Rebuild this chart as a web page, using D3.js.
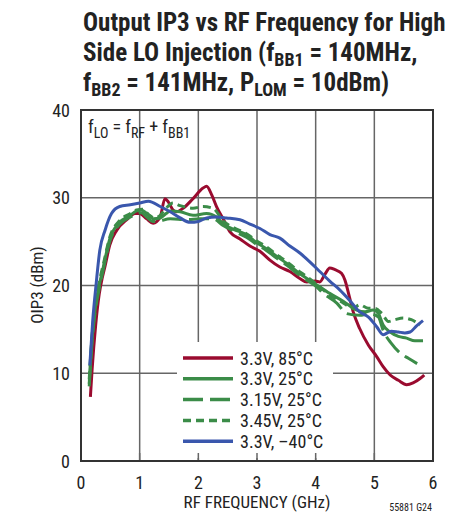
<!DOCTYPE html>
<html><head><meta charset="utf-8">
<script src="https://cdn.jsdelivr.net/npm/d3@7"></script>
<style>
body{margin:0;background:#fff;}
text{font-family:"Liberation Sans Narrow","Roboto Condensed","Arial Narrow",sans-serif;fill:#222;}
</style></head><body>
<svg id="c" width="468" height="518"></svg>
<script>
// ---- data ----
const xTicks = [0,1,2,3,4,5,6];
const yTicks = [0,10,20,30,40];

const f85 = [0.16,0.19,0.25,0.31,0.36,0.41,0.49,0.61,0.78,0.92,1.0,1.12,1.23,1.35,1.43,1.49,1.57,1.63,1.74,1.91,2.08,2.14,2.23,2.31,2.43,2.54,2.71,2.88,3.05,3.22,3.39,3.56,3.73,3.85,3.99,4.07,4.16,4.24,4.33,4.44,4.50,4.56,4.64,4.75,4.90,5.04,5.15,5.27,5.41,5.55,5.66,5.78,5.85];
const v85 = [7.3,10.5,15.5,19.0,20.8,22.2,24.6,26.3,27.5,28.2,28.2,27.6,27.1,27.8,29.9,29.5,28.6,28.4,28.8,29.9,31.1,31.3,30.3,29.0,27.5,26.1,25.3,24.5,23.9,22.9,22.1,21.6,20.8,20.4,20.5,20.4,21.3,22.0,21.8,21.4,20.6,19.1,17.0,15.1,13.2,11.9,10.75,9.8,9.2,8.7,8.9,9.4,9.8];

const f25 = [0.14,0.19,0.25,0.31,0.38,0.49,0.66,0.84,0.95,1.03,1.12,1.23,1.35,1.45,1.52,1.69,1.91,2.14,2.31,2.43,2.6,2.82,2.99,3.16,3.34,3.51,3.68,3.85,3.99,4.24,4.47,4.7,4.84,4.98,5.07,5.15,5.27,5.41,5.55,5.69,5.83];
const v25 = [8.8,14,17.8,20,22.1,25.3,27.2,28.0,28.5,28.6,28.2,27.6,27.7,28.2,28.5,28.4,28.0,28.2,27.8,27.0,26.4,25.8,24.9,24.2,23.3,22.5,21.6,20.8,20.2,19.1,18.2,17.2,17.0,17.2,16.8,15.5,14.7,14.2,14.0,13.7,13.7];

const f315 = [0.14,0.19,0.25,0.31,0.38,0.49,0.66,0.84,0.95,1.03,1.12,1.22,1.29,1.52,1.8,2.03,2.25,2.43,2.6,2.82,2.99,3.16,3.34,3.51,3.68,3.85,3.99,4.13,4.36,4.53,4.75,4.92,5.07,5.15,5.29,5.44,5.58,5.73];
const v315 = [8.5,13.6,17.4,19.6,21.8,25.0,27.0,27.8,28.2,28.3,27.8,27.3,27.3,27.6,27.5,27.6,27.6,26.8,26.2,25.5,24.7,24.0,23.1,22.3,21.4,20.6,20.0,19.1,18.0,16.8,16.6,16.8,16.4,14.9,13.4,12.3,11.7,11.1];

const f345 = [0.14,0.19,0.25,0.31,0.38,0.49,0.66,0.84,0.95,1.05,1.15,1.25,1.35,1.45,1.57,1.69,1.91,2.08,2.25,2.43,2.6,2.82,2.99,3.16,3.34,3.51,3.68,3.85,3.99,4.24,4.45,4.64,4.75,4.9,5.01,5.13,5.24,5.35,5.49,5.63,5.78];
const v345 = [9.3,14.4,18.2,20.4,22.4,25.5,27.4,28.2,28.6,28.7,28.1,27.7,28.0,28.8,29.4,29.1,28.8,29.0,28.8,27.3,26.6,25.9,25.1,24.4,23.5,22.7,21.8,21.0,20.3,18.9,18.1,17.4,17.8,17.4,17.4,16.8,15.9,16.1,16.3,16.1,15.5];

const fm40 = [0.15,0.2,0.26,0.32,0.41,0.52,0.66,0.84,1.0,1.15,1.35,1.52,1.69,1.86,2.0,2.14,2.31,2.48,2.71,2.88,3.05,3.22,3.39,3.56,3.73,3.9,4.07,4.24,4.41,4.58,4.75,4.9,5.04,5.15,5.29,5.41,5.52,5.61,5.72,5.83];
const vm40 = [10.9,16.0,20.3,24.0,26.3,28.2,29.0,29.2,29.4,29.6,29.0,28.4,27.7,27.2,27.3,27.7,27.8,27.7,27.5,27.0,26.5,25.8,25.4,24.5,23.7,22.7,21.6,20.5,19.5,18.3,17.0,16.4,15.3,14.4,14.8,14.7,14.6,14.7,15.4,16.0];

const seriesNames = ["3.3V, 85°C","3.3V, 25°C","3.15V, 25°C","3.45V, 25°C","3.3V, \u201340°C"];
const seriesF = [f85,f25,f315,f345,fm40];
const seriesV = [v85,v25,v315,v345,vm40];
const seriesColor = ["#9a0b2f","#3b8c48","#3b8c48","#3b8c48","#3a57ad"];
const seriesDash = [null,null,"20,7","8,5",null];

// ---- layout ----
const svg = d3.select("#c");
const L=81, R=433, T=110, B=461;
const x = d3.scaleLinear().domain([0,6]).range([L,R]);
const y = d3.scaleLinear().domain([0,40]).range([B,T]);

function addLine(yy, parts){
  const tx = svg.append("text").attr("x",83).attr("y",yy).attr("font-weight","bold").attr("font-size",25);
  parts.forEach(p=>{
    const s = tx.append("tspan").text(p[0]);
    if(p[1]) s.attr("font-size",18).attr("dy",5);
    if(p[2]) s.attr("dy",-5);
  });
}
addLine(31,[["Output IP3 vs RF Frequency for High"]]);
addLine(61,[["Side LO Injection (f"],["BB1",1],[" = 140MHz,",0,1]]);
addLine(91,[["f"],["BB2",1],[" = 141MHz, P",0,1],["LOM",1],[" = 10dBm)",0,1]]);

// grid
const g = svg.append("g");
g.selectAll(".vg").data([1,2,3,4,5]).enter().append("line")
  .attr("x1",d=>x(d)).attr("x2",d=>x(d)).attr("y1",T).attr("y2",B)
  .attr("stroke","#666").attr("stroke-width",1.5);
g.selectAll(".hg").data([10,20,30]).enter().append("line")
  .attr("x1",L).attr("x2",R).attr("y1",d=>y(d)).attr("y2",d=>y(d))
  .attr("stroke","#666").attr("stroke-width",1.5);

// lines
const line = d3.line().x(d=>x(d[0])).y(d=>y(d[1])).curve(d3.curveMonotoneX);
seriesF.forEach((fs,i)=>{
  const pts = fs.map((f,j)=>[f, seriesV[i][j]]);
  svg.append("path").datum(pts).attr("d",line).attr("fill","none")
    .attr("stroke",seriesColor[i]).attr("stroke-width",3)
    .attr("stroke-dasharray",seriesDash[i]).attr("stroke-linejoin","round");
});

// legend box
const lg = svg.append("g");
lg.append("rect").attr("x",177).attr("y",342).attr("width",156).attr("height",116).attr("fill","#fff");
svg.selectAll(".bt").data([1,2,3,4,5]).enter().append("line")
  .attr("x1",d=>x(d)).attr("x2",d=>x(d)).attr("y1",B).attr("y2",B-8)
  .attr("stroke","#666").attr("stroke-width",1.5);
seriesNames.forEach((n,i)=>{
  const yy = 358 + i*20.8;
  lg.append("line").attr("x1",183).attr("x2",233).attr("y1",yy).attr("y2",yy)
    .attr("stroke",seriesColor[i]).attr("stroke-width",3.5).attr("stroke-dasharray",seriesDash[i]);
  lg.append("text").attr("x",240).attr("y",yy+6.5).attr("font-size",18).text(n);
});

// frame
svg.append("rect").attr("x",L).attr("y",T).attr("width",R-L).attr("height",B-T)
  .attr("fill","none").attr("stroke","#333").attr("stroke-width",2);

// tick labels
svg.selectAll(".yl").data(yTicks).enter().append("text")
  .attr("x",70).attr("y",d=>y(d)+6.5).attr("text-anchor","end").attr("font-size",18).text(d=>d);
svg.selectAll(".xl").data(xTicks).enter().append("text")
  .attr("x",d=>x(d)).attr("y",489).attr("text-anchor","middle").attr("font-size",18).text(d=>d);

// axis titles
svg.append("text").attr("transform","translate(43,285) rotate(-90)").attr("text-anchor","middle")
  .attr("font-size",17).text("OIP3 (dBm)");
svg.append("text").attr("x",257).attr("y",508).attr("text-anchor","middle").attr("font-size",17).text("RF FREQUENCY (GHz)");
svg.append("text").attr("x",432).attr("y",511).attr("text-anchor","end").attr("font-size",10).text("55881 G24");

// annotation
const an = svg.append("text").attr("x",88).attr("y",133).attr("font-size",18);
an.append("tspan").text("f");
an.append("tspan").text("LO").attr("dy",5).attr("font-size",14);
an.append("tspan").text(" = f").attr("dy",-5);
an.append("tspan").text("RF").attr("dy",5).attr("font-size",14);
an.append("tspan").text(" + f").attr("dy",-5);
an.append("tspan").text("BB1").attr("dy",5).attr("font-size",14);
</script></body></html>
